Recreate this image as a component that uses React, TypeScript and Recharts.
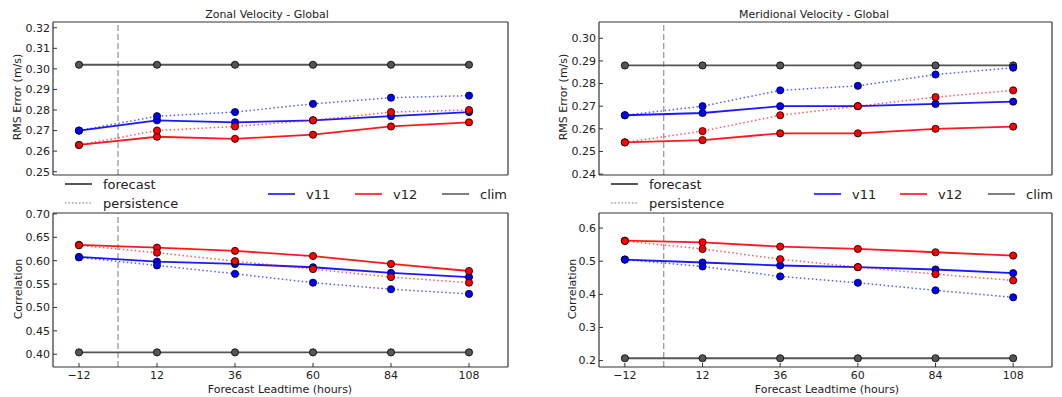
import React from 'react';
import { LineChart, Line, XAxis, YAxis, ReferenceLine } from 'recharts';

const leadHours = [-12, 12, 36, 60, 84, 108];

// RMS error, zonal velocity
const zonalRmsV11 = [0.27, 0.275, 0.274, 0.275, 0.277, 0.279];
const zonalRmsV11Pers = [0.27, 0.277, 0.279, 0.283, 0.286, 0.287];
const zonalRmsV12 = [0.263, 0.267, 0.266, 0.268, 0.272, 0.274];
const zonalRmsV12Pers = [0.263, 0.27, 0.272, 0.275, 0.279, 0.28];
const zonalRmsClim = [0.302, 0.302, 0.302, 0.302, 0.302, 0.302];

// RMS error, meridional velocity
const meridRmsV11 = [0.266, 0.267, 0.27, 0.27, 0.271, 0.272];
const meridRmsV11Pers = [0.266, 0.27, 0.277, 0.279, 0.284, 0.287];
const meridRmsV12 = [0.254, 0.255, 0.258, 0.258, 0.26, 0.261];
const meridRmsV12Pers = [0.254, 0.259, 0.266, 0.27, 0.274, 0.277];
const meridRmsClim = [0.288, 0.288, 0.288, 0.288, 0.288, 0.288];

// correlation, zonal velocity
const zonalCorrV11 = [0.608, 0.598, 0.593, 0.586, 0.574, 0.565];
const zonalCorrV11Pers = [0.607, 0.59, 0.572, 0.553, 0.539, 0.529];
const zonalCorrV12 = [0.634, 0.628, 0.621, 0.61, 0.593, 0.578];
const zonalCorrV12Pers = [0.633, 0.617, 0.599, 0.582, 0.565, 0.553];
const zonalCorrClim = [0.404, 0.404, 0.404, 0.404, 0.404, 0.404];

// correlation, meridional velocity
const meridCorrV11 = [0.505, 0.496, 0.487, 0.482, 0.475, 0.464];
const meridCorrV11Pers = [0.505, 0.484, 0.454, 0.435, 0.412, 0.391];
const meridCorrV12 = [0.562, 0.557, 0.544, 0.537, 0.527, 0.517];
const meridCorrV12Pers = [0.561, 0.537, 0.506, 0.482, 0.461, 0.442];
const meridCorrClim = [0.207, 0.207, 0.207, 0.207, 0.207, 0.207];

const xTicks = [-12, 12, 36, 60, 84, 108];
const zonalRmsTicks = [0.25, 0.26, 0.27, 0.28, 0.29, 0.3, 0.31, 0.32];
const meridRmsTicks = [0.24, 0.25, 0.26, 0.27, 0.28, 0.29, 0.3];
const zonalCorrTicks = [0.4, 0.45, 0.5, 0.55, 0.6, 0.65, 0.7];
const meridCorrTicks = [0.2, 0.3, 0.4, 0.5, 0.6];

const FONT = '"DejaVu Sans", sans-serif';
const BLUE = '#0000ff';
const RED = '#ff0000';
const GREY = '#555555';
const FRAME = '#333333';

type Series = { v11: number[]; v11p: number[]; v12: number[]; v12p: number[]; clim: number[] };

interface PanelProps {
  left: number;
  top: number;
  width: number;
  height: number;
  margin: { top: number; right: number; bottom: number; left: number };
  yWidth: number;
  domain: [number, number];
  yTicks: number[];
  decimals: number;
  bottomRow: boolean;
  s: Series;
}

const fmtHour = (v: number) => (v < 0 ? `\u2212${Math.abs(v)}` : String(v));

// marker: filled circle with a thin black edge, drawn at the point the Line computed
const marker = (c: string) => (p: any) => (
  <circle key={`${p.dataKey}-${p.index}`} cx={p.cx} cy={p.cy} r={3.6} fill={c} stroke="#000" strokeWidth={0.8} />
);

function Panel({ left, top, width, height, margin, yWidth, domain, yTicks, decimals, bottomRow, s }: PanelProps) {
  const data = leadHours.map((h, i) => ({
    h,
    v11: s.v11[i],
    v11p: s.v11p[i],
    v12: s.v12[i],
    v12p: s.v12p[i],
    clim: s.clim[i],
  }));
  const tickStyle = { fontSize: 11, fill: '#222', fontFamily: FONT };
  const frame = { stroke: FRAME, strokeWidth: 1.2 };
  return (
    <div style={{ position: 'absolute', left, top }}>
      <LineChart width={width} height={height} data={data} margin={margin}>
        <XAxis
          dataKey="h"
          type="number"
          domain={[-20, 120]}
          allowDataOverflow
          ticks={xTicks}
          interval={0}
          tickFormatter={fmtHour}
          height={bottomRow ? 25 : 1}
          tick={bottomRow ? tickStyle : false}
          tickLine={bottomRow ? { stroke: FRAME } : false}
          tickSize={-4}
          tickMargin={8}
          axisLine={frame}
        />
        <XAxis
          xAxisId="top"
          orientation="top"
          dataKey="h"
          type="number"
          domain={[-20, 120]}
          allowDataOverflow
          ticks={xTicks}
          interval={0}
          height={1}
          tick={false}
          tickLine={bottomRow ? { stroke: FRAME } : false}
          tickSize={-4}
          axisLine={frame}
        />
        <YAxis
          type="number"
          domain={domain}
          allowDataOverflow
          ticks={yTicks}
          interval={0}
          width={yWidth}
          tick={tickStyle}
          tickFormatter={(v: number) => v.toFixed(decimals)}
          tickLine={{ stroke: FRAME }}
          tickSize={-4}
          tickMargin={7}
          axisLine={frame}
        />
        <YAxis
          yAxisId="r"
          orientation="right"
          type="number"
          domain={domain}
          allowDataOverflow
          ticks={yTicks}
          interval={0}
          width={1}
          tick={false}
          tickLine={{ stroke: FRAME }}
          tickSize={-4}
          axisLine={frame}
        />
        <ReferenceLine x={0} stroke="#999" strokeWidth={1.3} strokeDasharray="6 3" />
        <Line dataKey="clim" xAxisId="top" yAxisId="r" stroke={GREY} strokeWidth={1.8} dot={marker(GREY)} isAnimationActive={false} />
        <Line dataKey="v11" stroke={BLUE} strokeWidth={1.8} strokeOpacity={0.9} dot={marker(BLUE)} isAnimationActive={false} />
        <Line dataKey="v11p" stroke={BLUE} strokeWidth={1.5} strokeOpacity={0.65} strokeDasharray="1.5 2.5" dot={marker(BLUE)} isAnimationActive={false} />
        <Line dataKey="v12" stroke={RED} strokeWidth={1.8} strokeOpacity={0.9} dot={marker(RED)} isAnimationActive={false} />
        <Line dataKey="v12p" stroke={RED} strokeWidth={1.5} strokeOpacity={0.65} strokeDasharray="1.5 2.5" dot={marker(RED)} isAnimationActive={false} />
      </LineChart>
    </div>
  );
}

function Label({ x, y, text, rotate }: { x: number; y: number; text: string; rotate?: boolean }) {
  return (
    <div
      style={{
        position: 'absolute',
        left: x,
        top: y,
        transform: `translate(-50%, -50%)${rotate ? ' rotate(-90deg)' : ''}`,
        fontSize: 11,
        color: '#222',
        whiteSpace: 'nowrap',
        lineHeight: 1,
      }}
    >
      {text}
    </div>
  );
}

function Key({ x, y, color, label, dash, opacity }: { x: number; y: number; color: string; label: string; dash?: string; opacity?: number }) {
  return (
    <div style={{ position: 'absolute', left: x, top: y - 9, height: 18, display: 'flex', alignItems: 'center', whiteSpace: 'nowrap' }}>
      <svg width={27} height={4}>
        <line x1={0} y1={2} x2={27} y2={2} stroke={color} strokeWidth={1.5} strokeDasharray={dash} strokeOpacity={opacity ?? 1} />
      </svg>
      <span style={{ marginLeft: 11, fontSize: 13, color: '#222' }}>{label}</span>
    </div>
  );
}

function Legends({ dx, v11x, v12x, climx }: { dx: number; v11x: number; v12x: number; climx: number }) {
  return (
    <>
      <Key x={dx} y={184} color="#222" label="forecast" />
      <Key x={dx} y={203} color="#888" label="persistence" dash="1.5 2" opacity={0.8} />
      <Key x={v11x} y={194} color={BLUE} label="v11" />
      <Key x={v12x} y={194} color={RED} label="v12" />
      <Key x={climx} y={194} color={GREY} label="clim" />
    </>
  );
}

export default function App() {
  const zonalRms: Series = { v11: zonalRmsV11, v11p: zonalRmsV11Pers, v12: zonalRmsV12, v12p: zonalRmsV12Pers, clim: zonalRmsClim };
  const meridRms: Series = { v11: meridRmsV11, v11p: meridRmsV11Pers, v12: meridRmsV12, v12p: meridRmsV12Pers, clim: meridRmsClim };
  const zonalCorr: Series = { v11: zonalCorrV11, v11p: zonalCorrV11Pers, v12: zonalCorrV12, v12p: zonalCorrV12Pers, clim: zonalCorrClim };
  const meridCorr: Series = { v11: meridCorrV11, v11p: meridCorrV11Pers, v12: meridCorrV12, v12p: meridCorrV12Pers, clim: meridCorrClim };

  return (
    <div
      style={{
        position: 'absolute',
        left: 0,
        top: 0,
        width: 1062,
        height: 397,
        overflow: 'hidden',
        background: '#fff',
        fontFamily: FONT,
      }}
    >
      <Panel left={0} top={0} width={530} height={190} margin={{ top: 21, right: 21, bottom: 14, left: 0 }} yWidth={53}
        domain={[0.2484, 0.3228]} yTicks={zonalRmsTicks} decimals={2} bottomRow={false} s={zonalRms} />
      <Panel left={0} top={200} width={530} height={197} margin={{ top: 12, right: 21, bottom: 5, left: 0 }} yWidth={53}
        domain={[0.3727, 0.702]} yTicks={zonalCorrTicks} decimals={2} bottomRow s={zonalCorr} />
      <Panel left={530} top={0} width={532} height={190} margin={{ top: 21, right: 9, bottom: 14, left: 0 }} yWidth={69}
        domain={[0.2396, 0.3072]} yTicks={meridRmsTicks} decimals={2} bottomRow={false} s={meridRms} />
      <Panel left={530} top={200} width={532} height={197} margin={{ top: 12, right: 9, bottom: 5, left: 0 }} yWidth={69}
        domain={[0.1806, 0.6455]} yTicks={meridCorrTicks} decimals={1} bottomRow s={meridCorr} />

      <Label x={267} y={14} text="Zonal Velocity - Global" />
      <Label x={814} y={14} text="Meridional Velocity - Global" />
      <Label x={17} y={97} text="RMS Error (m/s)" rotate />
      <Label x={563} y={97} text="RMS Error (m/s)" rotate />
      <Label x={18} y={289} text="Correlation" rotate />
      <Label x={572} y={289} text="Correlation" rotate />
      <Label x={280} y={389} text="Forecast Leadtime (hours)" />
      <Label x={827} y={389} text="Forecast Leadtime (hours)" />

      <Legends dx={65} v11x={268} v12x={355} climx={442} />
      <Legends dx={611} v11x={814} v12x={900} climx={988} />
    </div>
  );
}
